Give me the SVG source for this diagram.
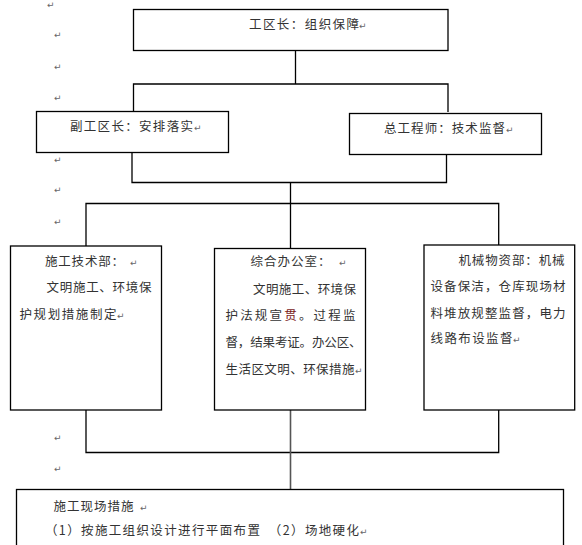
<svg xmlns="http://www.w3.org/2000/svg" width="582" height="545" viewBox="0 0 582 545">
<style>
.box{fill:#fff;stroke:#000;stroke-width:1.3}
.ln{fill:none;stroke:#000;stroke-width:1.3}
.t{font-family:"Noto Sans CJK SC","Noto Sans",sans-serif;font-size:12.5px;fill:#333}
.r{font-family:"DejaVu Sans",sans-serif;font-size:9px;fill:#666}
</style>
<rect width="582" height="545" fill="#fff"/>
<g id="marks">
<text class="r" x="47" y="8">↵</text>
<text class="r" x="54" y="38">↵</text>
<text class="r" x="54" y="70">↵</text>
<text class="r" x="54" y="101">↵</text>
<text class="r" x="54" y="163">↵</text>
<text class="r" x="54" y="193">↵</text>
<text class="r" x="54" y="225">↵</text>
<text class="r" x="54" y="441">↵</text>
<text class="r" x="54" y="472">↵</text>
</g>
<g id="connectors">
<path class="ln" d="M295.5 50V84M133.5 111V84H448V112"/>
<path class="ln" d="M132 152V182.5H446.5V154M290.5 182.5V248"/>
<path class="ln" d="M86 246V203.5H498.7V245"/>
<path class="ln" d="M86 410V452.5H498.7V410"/>
<path d="M290.5 410V489" fill="none" stroke="#555" stroke-width="1.6"/>
</g>
<g id="n1">
<rect class="box" x="133.5" y="9.5" width="314.5" height="41"/>
<text class="t" x="249" y="29" textLength="110" lengthAdjust="spacing">工区长：组织保障</text>
<text class="r" x="359" y="29">↵</text>
</g>
<g id="n2">
<rect class="box" x="36.5" y="111.5" width="192" height="41"/>
<text class="t" x="70" y="130.5" textLength="123" lengthAdjust="spacing">副工区长：安排落实</text>
<text class="r" x="194" y="130.5">↵</text>
</g>
<g id="n3">
<rect class="box" x="349.5" y="113.5" width="192" height="41"/>
<text class="t" x="384" y="132.5" textLength="121" lengthAdjust="spacing">总工程师：技术监督</text>
<text class="r" x="506" y="132.5">↵</text>
</g>
<g id="n4">
<rect class="box" x="10.5" y="246" width="151" height="164"/>
<text class="t" x="45" y="266" textLength="79" lengthAdjust="spacing">施工技术部：</text>
<text class="r" x="130" y="266">↵</text>
<text class="t" x="46.5" y="292" textLength="105" lengthAdjust="spacing">文明施工、环境保</text>
<text class="t" x="19.5" y="319" textLength="97" lengthAdjust="spacing">护规划措施制定</text>
<text class="r" x="117" y="319">↵</text>
</g>
<g id="n5">
<rect class="box" x="214.5" y="248.5" width="151" height="161.5"/>
<text class="t" x="250.5" y="266" textLength="80" lengthAdjust="spacing">综合办公室：</text>
<text class="r" x="339" y="266">↵</text>
<text class="t" x="253" y="294" textLength="103" lengthAdjust="spacing">文明施工、环境保</text>
<text class="t" x="225.5" y="319.5" textLength="130" lengthAdjust="spacing">护法规宣<tspan fill="#7a1a1a">贯</tspan>。过程监</text>
<text class="t" x="225.5" y="347" textLength="136" lengthAdjust="spacing">督，结果考证。办公区、</text>
<text class="t" x="225.5" y="374" textLength="129" lengthAdjust="spacing">生活区文明、环保措施</text>
<text class="r" x="355" y="374">↵</text>
</g>
<g id="n6">
<rect class="box" x="424" y="245" width="150.7" height="165"/>
<text class="t" x="458.5" y="265" textLength="106" lengthAdjust="spacing">机械物资部：机械</text>
<text class="t" x="430.5" y="291" textLength="135" lengthAdjust="spacing">设备保洁，仓库现场材</text>
<text class="t" x="430.5" y="317.5" textLength="135" lengthAdjust="spacing">料堆放规整监督，电力</text>
<text class="t" x="430.5" y="343" textLength="82" lengthAdjust="spacing">线路布设监督</text>
<text class="r" x="513" y="343">↵</text>
</g>
<g id="n7">
<rect class="box" x="16.5" y="489.5" width="547" height="70"/>
<text class="t" x="53.5" y="511" textLength="80" lengthAdjust="spacing">施工现场措施</text>
<text class="r" x="140" y="511">↵</text>
<text class="t" x="45" y="535" textLength="314" lengthAdjust="spacing">（1）按施工组织设计进行平面布置　（2）场地硬化</text>
<text class="r" x="360" y="535">↵</text>
</g>
</svg>
